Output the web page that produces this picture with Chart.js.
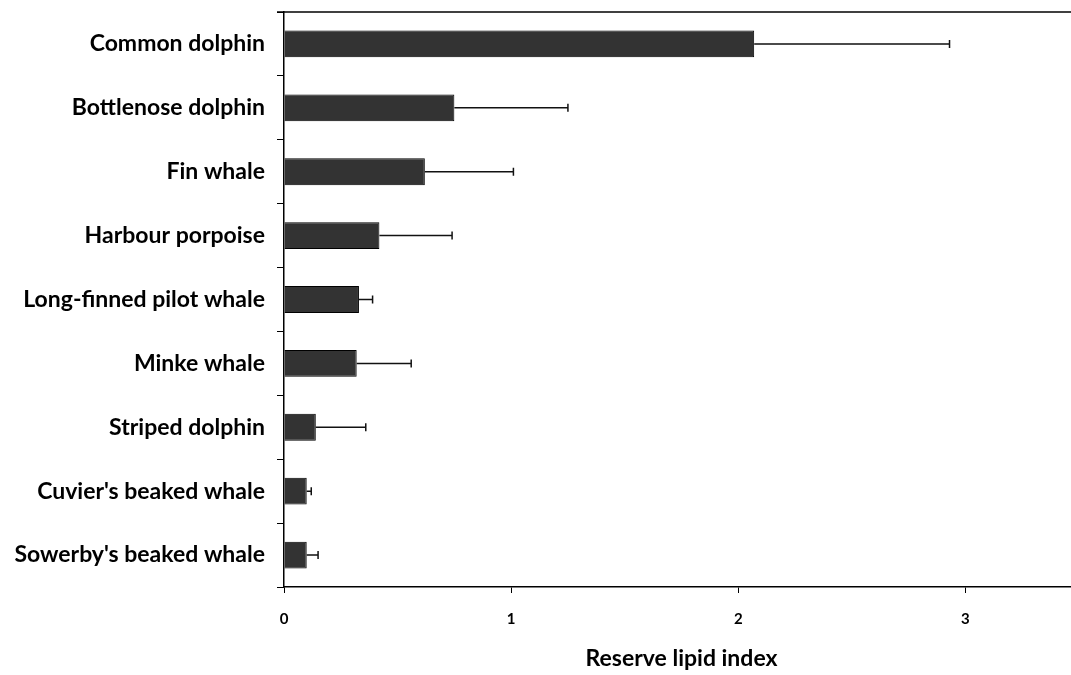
<!DOCTYPE html>
<html>
<head>
<meta charset="utf-8">
<script src="https://cdn.jsdelivr.net/npm/chart.js@4"></script>
<style>
  html, body { margin: 0; padding: 0; background: #fff; overflow: hidden; }
  #wrap { width: 1090px; height: 675px; position: relative; }
</style>
</head>
<body>
<div id="wrap"><canvas id="chart"></canvas></div>
<script>
const species = [
    'Common dolphin',
    'Bottlenose dolphin',
    'Fin whale',
    'Harbour porpoise',
    'Long-finned pilot whale',
    'Minke whale',
    'Striped dolphin',
    "Cuvier's beaked whale",
    "Sowerby's beaked whale"
];
const lipidIndex = [2.07, 0.75, 0.62, 0.42, 0.33, 0.32, 0.14, 0.10, 0.10];
const upperError = [2.93, 1.25, 1.01, 0.74, 0.39, 0.56, 0.36, 0.12, 0.15];
const xTicks = [0, 1, 2, 3];

const font = 'Lato, "Open Sans", sans-serif';

// top frame line of the plot area
const frameTop = {
    id: 'frameTop',
    afterDraw(chart) {
        const {ctx, chartArea} = chart;
        ctx.save();
        ctx.strokeStyle = '#000';
        ctx.lineWidth = 1.5;
        ctx.beginPath();
        ctx.moveTo(chartArea.left - 7, chartArea.top);
        ctx.lineTo(chartArea.right, chartArea.top);
        ctx.stroke();
        ctx.restore();
    }
};

// one-sided error bars (upper only)
const errorBars = {
    id: 'errorBars',
    afterDatasetsDraw(chart) {
        const {ctx} = chart;
        const xs = chart.scales.x;
        const meta = chart.getDatasetMeta(0);
        ctx.save();
        ctx.strokeStyle = '#111';
        ctx.lineWidth = 1.5;
        meta.data.forEach((bar, i) => {
            const x0 = xs.getPixelForValue(lipidIndex[i]);
            const x1 = xs.getPixelForValue(upperError[i]);
            const y = bar.y;
            ctx.beginPath();
            ctx.moveTo(x0, y);
            ctx.lineTo(x1, y);
            ctx.moveTo(x1, y - 4);
            ctx.lineTo(x1, y + 4);
            ctx.stroke();
        });
        ctx.restore();
    }
};

new Chart(document.getElementById('chart'), {
    type: 'bar',
    data: {
        labels: species,
        datasets: [{
            data: lipidIndex,
            backgroundColor: '#333333',
            borderColor: '#000',
            borderWidth: 1,
            barPercentage: 0.42,
            categoryPercentage: 1
        }]
    },
    options: {
        indexAxis: 'y',
        responsive: true,
        maintainAspectRatio: false,
        animation: false,
        layout: {
            padding: {top: 12, right: 11, left: 0, bottom: 0}
        },
        plugins: {
            legend: {display: false},
            tooltip: {enabled: false}
        },
        scales: {
            x: {
                min: 0,
                max: 3.5,
                afterBuildTicks: (scale) => {
                    scale.ticks = xTicks.map((v) => ({value: v}));
                },
                afterFit: (scale) => {
                    scale.height = 88;
                    scale.paddingLeft = 0;
                    scale.paddingRight = 0;
                },
                grid: {
                    drawOnChartArea: false,
                    drawTicks: true,
                    tickLength: 6,
                    color: '#000'
                },
                border: {color: '#000', width: 1.5},
                ticks: {
                    color: '#000',
                    padding: 17,
                    font: {family: font, size: 15, weight: 'bold'}
                },
                title: {
                    display: true,
                    text: 'Reserve lipid index',
                    color: '#000',
                    padding: {top: 10, bottom: 3},
                    font: {family: font, size: 23, weight: 'bold'}
                }
            },
            y: {
                afterFit: (scale) => {
                    scale.width = 284;
                    scale.paddingTop = 0;
                    scale.paddingBottom = 0;
                },
                grid: {
                    offset: true,
                    drawOnChartArea: false,
                    drawTicks: true,
                    tickLength: 7,
                    color: '#000'
                },
                border: {color: '#000', width: 1.5},
                ticks: {
                    color: '#000',
                    padding: 12,
                    font: {family: font, size: 23, weight: 'bold'}
                }
            }
        }
    },
    plugins: [frameTop, errorBars]
});
</script>
</body>
</html>
